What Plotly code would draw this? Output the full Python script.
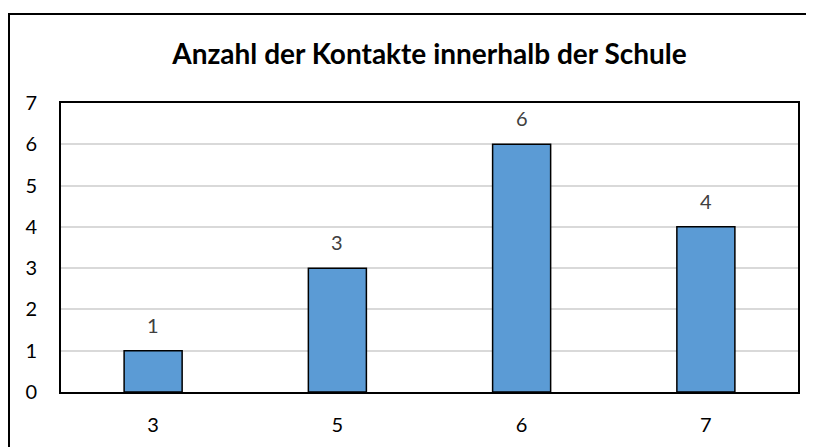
import plotly.graph_objects as go

categories = ["3", "5", "6", "7"]
values = [1, 3, 6, 4]
title_text = "Anzahl der Kontakte innerhalb der Schule"
y_ticks = [0, 1, 2, 3, 4, 5, 6, 7]

FONT = "Lato, sans-serif"
TICK_SIZE = 20

# page body adds an 8px offset; figure coords below account for it
L, R, T, B = 53, 24, 95, 63
PW, PH = 814 - L - R, 447 - T - B

fig = go.Figure()
fig.add_trace(go.Bar(
    x=categories, y=values,
    marker=dict(color="#5B9BD5", line=dict(color="black", width=1.5)),
    hoverinfo="skip",
))

for i, v in enumerate(values):
    fig.add_annotation(x=i, y=v, text=str(v), showarrow=False,
                       yanchor="bottom", yshift=12,
                       font=dict(family=FONT, size=TICK_SIZE, color="#404040"))

fig.update_layout(
    width=814, height=447,
    margin=dict(l=L, r=R, t=T, b=B, autoexpand=False),
    paper_bgcolor="white", plot_bgcolor="white",
    bargap=0.685,
    showlegend=False,
    title=dict(text="<b>" + title_text + "</b>", x=(L + PW / 2) / 814, xref="container",
               y=1 - 46 / 447, yref="container", yanchor="middle", xanchor="center",
               font=dict(family=FONT, size=28, color="black")),
    font=dict(family=FONT, size=TICK_SIZE, color="black"),
    xaxis=dict(type="category", showgrid=False, showline=True, linecolor="black",
               linewidth=2, mirror=True, ticks="", ticklabelstandoff=14, automargin=False,
               tickfont=dict(family=FONT, size=TICK_SIZE, color="black")),
    yaxis=dict(range=[0, 7], tickvals=y_ticks, showgrid=True, gridcolor="#D9D9D9",
               gridwidth=1.5, showline=True, linecolor="black", linewidth=2, mirror=True,
               ticks="", ticklabelstandoff=18, zeroline=False, automargin=False,
               tickfont=dict(family=FONT, size=TICK_SIZE, color="black")),
    shapes=[dict(type="rect", xref="paper", yref="paper",
                 x0=(1 - L) / PW, x1=(830 - L) / PW,
                 y0=(447 - B - 460) / PH, y1=(447 - B - 6) / PH,
                 line=dict(color="black", width=2), fillcolor="rgba(0,0,0,0)",
                 layer="below")],
)

fig.write_html("out.html")
